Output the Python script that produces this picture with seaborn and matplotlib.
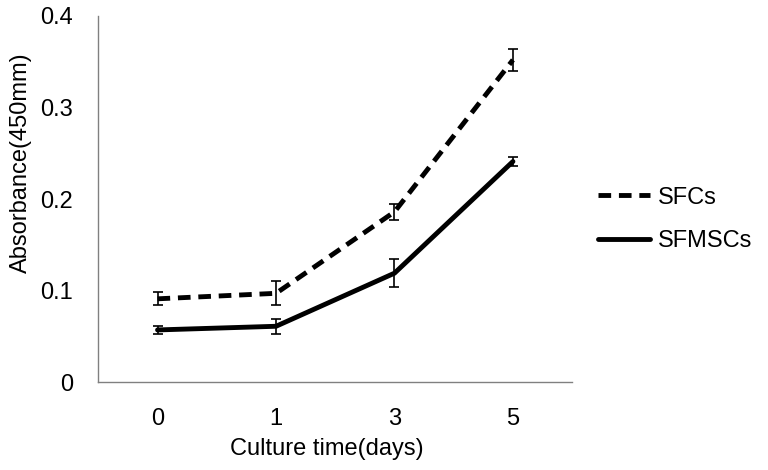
import pandas as pd
import seaborn as sns
import matplotlib.pyplot as plt
from matplotlib.ticker import FixedLocator, FuncFormatter

days = ["0", "1", "3", "5"]
sfcs = [0.091, 0.097, 0.186, 0.352]
sfcs_err = [0.007, 0.013, 0.009, 0.012]
sfmscs = [0.057, 0.061, 0.119, 0.241]
sfmscs_err = [0.004, 0.008, 0.015, 0.005]

df = pd.DataFrame({
    "day": days * 2,
    "value": sfcs + sfmscs,
    "err": sfcs_err + sfmscs_err,
    "group": ["SFCs"] * 4 + ["SFMSCs"] * 4,
})

sns.set_style("white")
plt.rcParams['font.family'] = ['Liberation Sans', 'DejaVu Sans']
plt.rcParams['text.color'] = 'black'
plt.rcParams['axes.labelcolor'] = 'black'
plt.rcParams['xtick.labelcolor'] = 'black'
plt.rcParams['ytick.labelcolor'] = 'black'
FS = 17

fig, ax = plt.subplots(figsize=(7.68, 4.7), dpi=100)
fig.subplots_adjust(left=0.128, right=0.745, top=0.966, bottom=0.187)

sns.lineplot(data=df, x="day", y="value", style="group", color="black",
             linewidth=3.5, dashes={"SFCs": (2.6, 1.6), "SFMSCs": ""},
             markers=False, errorbar=None, ax=ax)

# error bars at the categorical positions used by seaborn
for name, g in df.groupby("group"):
    pos = [days.index(d) for d in g["day"]]
    ax.errorbar(pos, g["value"], yerr=g["err"], fmt="none", ecolor="black",
                elinewidth=1.2, capsize=3.3, capthick=1.2, zorder=3)

ax.set_xlim(-0.5, 3.5)
ax.set_ylim(0, 0.4)
ax.set_yticks([0, 0.1, 0.2, 0.3, 0.4])
ax.yaxis.set_major_formatter(FuncFormatter(lambda v, _: "0" if v == 0 else f"{v:.1f}"))
ax.set_xticks(range(4))
ax.set_xticklabels(days)
ax.xaxis.set_minor_locator(FixedLocator([-0.5, 0.5, 1.5, 2.5, 3.5]))

ax.tick_params(axis="x", which="major", length=0, pad=19, labelsize=FS, labelcolor="black")
ax.tick_params(axis="x", which="minor", length=6, width=1, color="#808080", direction="out")
ax.tick_params(axis="y", which="major", length=6, width=1, color="#808080",
               direction="out", pad=12, labelsize=FS, labelcolor="black")

for side in ["top", "right"]:
    ax.spines[side].set_visible(False)
for side in ["left", "bottom"]:
    ax.spines[side].set_color("#808080")
    ax.spines[side].set_linewidth(1)

ax.set_xlabel("Culture time(days)", fontsize=FS, color="black")
ax.set_ylabel("Absorbance(450mm)", fontsize=FS, color="black")
ax.xaxis.set_label_coords(0.483, -0.153)
ax.yaxis.set_label_coords(-0.139, 0.598)

leg = ax.legend(title=None, frameon=False, fontsize=FS, loc="center left",
                bbox_to_anchor=(1.009, 0.444), handlelength=2.2, handletextpad=0.35,
                labelspacing=0.92)
for t in leg.get_texts():
    t.set_color("black")

plt.savefig("out.png", dpi=100)
